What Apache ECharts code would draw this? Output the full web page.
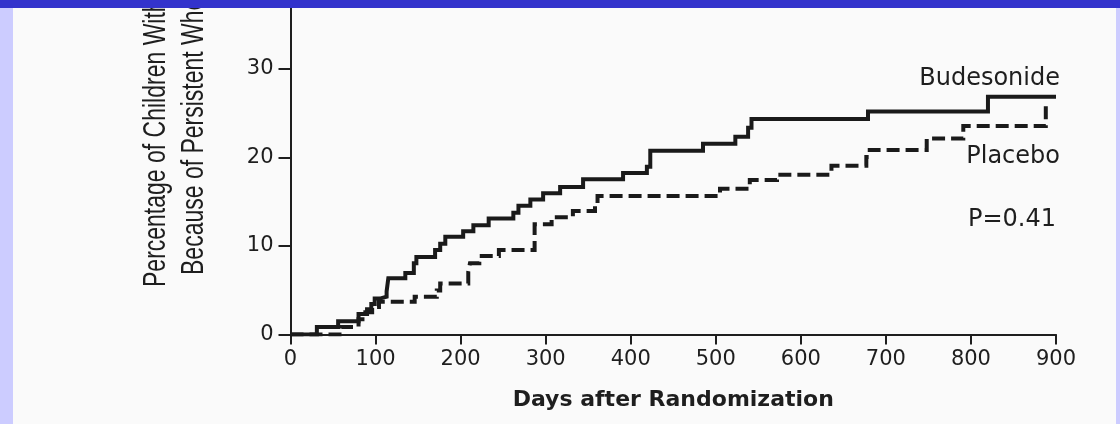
<!DOCTYPE html>
<html><head><meta charset="utf-8">
<script src="https://cdn.jsdelivr.net/npm/echarts@6/dist/echarts.min.js"></script>
<style>html,body{margin:0;padding:0;background:#fafafa}#c{width:1120px;height:424px}</style>
</head><body><div id="c"></div>
<script>
// ---- data ----
const xTickLabels = [0, 100, 200, 300, 400, 500, 600, 700, 800, 900];
const yTickLabels = [0, 10, 20, 30];
const seriesNames = ['Budesonide', 'Placebo'];
const budesonideDays = [0, 31, 56, 80, 90, 95, 99, 105, 113, 115, 135, 145, 148, 170, 176, 182, 203, 215, 233, 262, 268, 282, 297, 317, 344, 391, 419, 423, 485, 523, 538, 542, 679, 820, 900];
const budesonidePct  = [0, 0.85, 1.5, 2.3, 2.85, 3.45, 4.05, 4.25, 4.85, 6.35, 6.95, 8.05, 8.75, 9.55, 10.25, 11.05, 11.65, 12.35, 13.1, 13.75, 14.55, 15.25, 15.95, 16.65, 17.55, 18.25, 18.95, 20.75, 21.55, 22.35, 23.35, 24.35, 25.2, 26.85, 26.85];
const placeboDays = [0, 60, 80, 88, 96, 104, 146, 172, 176, 209, 211, 222, 245, 287, 307, 332, 358, 361, 505, 540, 572, 636, 677, 681, 748, 791, 888];
const placeboPct  = [0, 0.85, 1.7, 2.5, 3.1, 3.7, 4.25, 4.95, 5.75, 7.1, 8.05, 8.85, 9.55, 12.45, 13.25, 13.95, 14.7, 15.65, 16.45, 17.45, 18.05, 19.05, 20.05, 20.85, 22.15, 23.55, 25.95];
const pValueText = 'P=0.41';
const xAxisTitle = 'Days after Randomization';
const yAxisTitleLines = ['Percentage of Children Withdrawn', 'Because of Persistent Wheezing'];

// ---- chart ----
const ink = '#1e1e1e';
const chart = echarts.init(document.getElementById('c'), null, {renderer: 'canvas', width: 1120, height: 424});
const pairs = (xs, ys) => xs.map((x, i) => [x, ys[i]]);

const option = {
  backgroundColor: '#fafafa',
  animation: false,
  grid: {left: 290.5, right: 64, top: 0, bottom: 89.6, containLabel: false, outerBoundsMode: 'none'},
  xAxis: {
    type: 'value', min: xTickLabels[0], max: xTickLabels[xTickLabels.length - 1], interval: 100,
    axisLine: {show: true, onZero: false, lineStyle: {color: ink, width: 2}},
    axisTick: {show: true, length: 10, lineStyle: {color: ink, width: 2}},
    axisLabel: {margin: 15, fontFamily: 'DejaVu Sans', fontSize: 21, color: ink,
      formatter: v => xTickLabels.includes(v) ? String(v) : ''},
    splitLine: {show: false},
    name: xAxisTitle, nameLocation: 'middle', nameGap: 55,
    nameTextStyle: {fontFamily: 'DejaVu Sans', fontWeight: 'bold', fontSize: 22, color: ink}
  },
  yAxis: {
    type: 'value', min: 0, max: 37.8, interval: 10,
    axisLine: {show: true, onZero: false, lineStyle: {color: ink, width: 2}},
    axisTick: {show: true, length: 12, lineStyle: {color: ink, width: 2}},
    axisLabel: {margin: 17, fontFamily: 'DejaVu Sans', fontSize: 21, color: ink,
      formatter: v => yTickLabels.includes(v) ? String(v) : ''},
    splitLine: {show: false}
  },
  series: [
    {type: 'line', name: seriesNames[0], step: 'end', symbol: 'none', data: pairs(budesonideDays, budesonidePct),
     lineStyle: {color: '#1a1a1a', width: 4, type: 'solid', cap: 'butt', join: 'miter'}, z: 3},
    {type: 'line', name: seriesNames[1], step: 'end', symbol: 'none', data: pairs(placeboDays, placeboPct),
     lineStyle: {color: '#1a1a1a', width: 4, type: [13, 6], cap: 'butt', join: 'miter'}, z: 2}
  ],
  graphic: [
    {type: 'text', x: 156, y: 287, rotation: Math.PI / 2, scaleY: 1.4, z: 10,
     style: {text: yAxisTitleLines[0], font: '23px "Liberation Sans"', fill: ink, align: 'left', verticalAlign: 'middle', textAlign: 'left', textVerticalAlign: 'middle'}},
    {type: 'text', x: 194, y: 275, rotation: Math.PI / 2, scaleY: 1.4, z: 10,
     style: {text: yAxisTitleLines[1], font: '23px "Liberation Sans"', fill: ink, align: 'left', verticalAlign: 'middle', textAlign: 'left', textVerticalAlign: 'middle'}},
    {type: 'text', x: 1060, y: 79, z: 10,
     style: {text: seriesNames[0], font: '24px "DejaVu Sans"', fill: ink, align: 'right', verticalAlign: 'middle', textAlign: 'right', textVerticalAlign: 'middle'}},
    {type: 'text', x: 1060, y: 157, z: 10,
     style: {text: seriesNames[1], font: '24px "DejaVu Sans"', fill: ink, align: 'right', verticalAlign: 'middle', textAlign: 'right', textVerticalAlign: 'middle'}},
    {type: 'text', x: 1056, y: 220, z: 10,
     style: {text: pValueText, font: '24px "DejaVu Sans"', fill: ink, align: 'right', verticalAlign: 'middle', textAlign: 'right', textVerticalAlign: 'middle'}},
    {type: 'rect', shape: {x: 0, y: 0, width: 13, height: 424}, style: {fill: '#ccccff'}, z: 90},
    {type: 'rect', shape: {x: 1116, y: 0, width: 4, height: 424}, style: {fill: '#ccccff'}, z: 90},
    {type: 'rect', shape: {x: 0, y: 0, width: 1120, height: 8}, style: {fill: '#3333cc'}, z: 100}
  ]
};
chart.setOption(option);
</script>
</body></html>
